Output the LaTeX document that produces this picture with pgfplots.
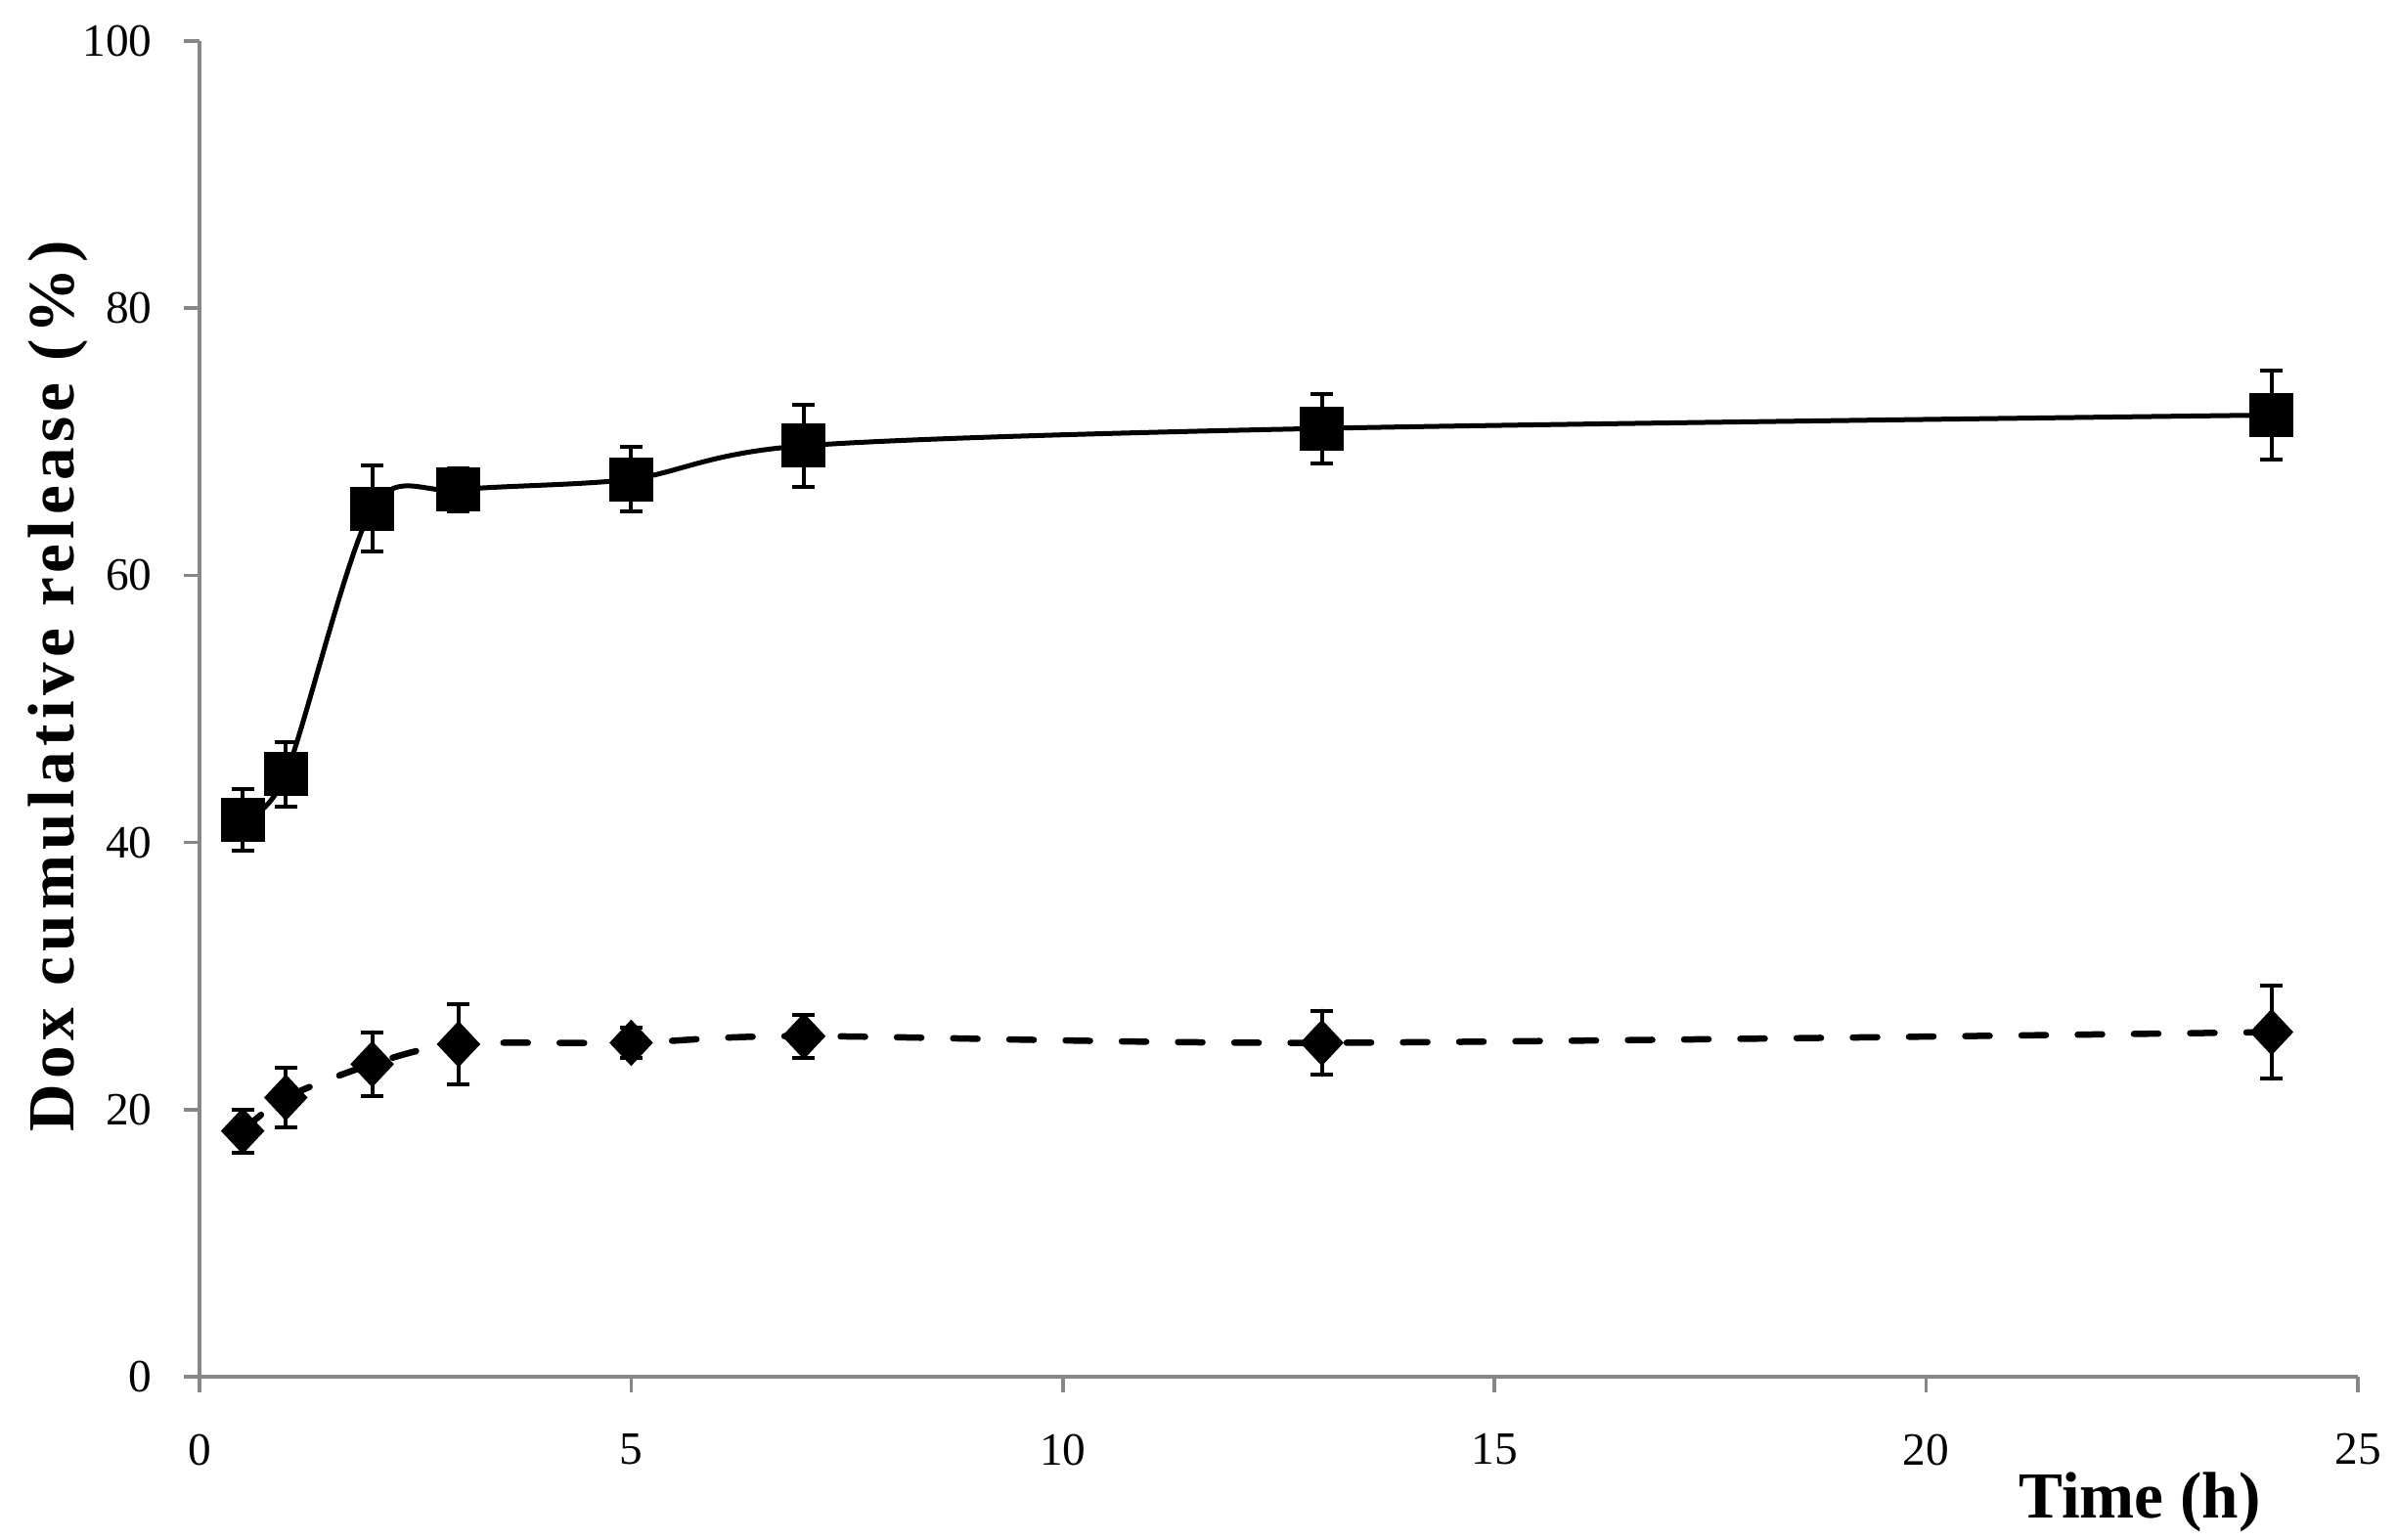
\documentclass[border=0pt]{standalone}
\usepackage{fontspec}
\setmainfont{Liberation Serif}
\usepackage{pgfplots}
\pgfplotsset{compat=1.18}
\definecolor{axgray}{HTML}{878787}
\begin{document}
\begin{tikzpicture}
\useasboundingbox (-40.8bp,-33.4bp) rectangle (449.4bp,281.6bp);
\begin{axis}[
  at={(0,0)}, anchor=south west,
  scale only axis, width=441.4bp, height=273.2bp,
  xmin=0, xmax=25, ymin=0, ymax=100,
  axis x line*=bottom, axis y line*=left,
  xtick={0,5,...,25}, ytick={0,20,...,100},
  tick align=outside, major tick length=3.2bp,
  tick style={color=axgray, line width=0.7bp},
  axis line style={color=axgray, line width=0.7bp},
  tick label style={font=\fontsize{9.5}{11}\selectfont},
  xticklabel style={yshift=-5bp},
  yticklabel style={xshift=-3bp},
  /pgf/number format/assume math mode=true,
  xlabel={\textbf{Time (h)}},
  ylabel={\addfontfeature{LetterSpace=8}\textbf{Dox cumulative release (\%)}},
  xlabel style={at={(axis description cs:0.899,-0.094)}, anchor=center, font=\fontsize{13.5}{15}\selectfont},
  ylabel style={at={(axis description cs:-0.0657,0.519)}, anchor=center, font=\fontsize{13.5}{15}\selectfont},
  clip=false,
]
\addplot[black, line width=1.0bp, smooth, tension=0.5,
  mark=square*, mark size=4bp, mark options={solid},
  error bars/.cd, y dir=both, y explicit,
  error bar style={line width=0.8bp, black},
  error mark options={rotate=90, mark size=2.3bp, line width=0.8bp}]
coordinates {
 (0.5,41.7) +- (0,2.3)
 (1,45.1) +- (0,2.4)
 (2,65.0) +- (0,3.2)
 (3,66.4) +- (0,1.6)
 (5,67.2) +- (0,2.4)
 (7,69.7) +- (0,3.1)
 (13,71.0) +- (0,2.6)
 (24,72.0) +- (0,3.3)
};
\addplot[black, line width=1.3bp, smooth, tension=0.5, line cap=round,
  dash pattern=on 5bp off 6.5bp,
  mark=diamond*, mark size=3.8bp, mark options={solid, xscale=1.25},
  error bars/.cd, y dir=both, y explicit,
  error bar style={line width=0.8bp, black, solid},
  error mark options={rotate=90, mark size=2.3bp, line width=0.8bp, solid}]
coordinates {
 (0.5,18.4) +- (0,1.6)
 (1,20.9) +- (0,2.2)
 (2,23.4) +- (0,2.4)
 (3,24.9) +- (0,3.0)
 (5,25.0) +- (0,1.1)
 (7,25.5) +- (0,1.6)
 (13,25.0) +- (0,2.4)
 (24,25.8) +- (0,3.5)
};
\end{axis}
\end{tikzpicture}
\end{document}
